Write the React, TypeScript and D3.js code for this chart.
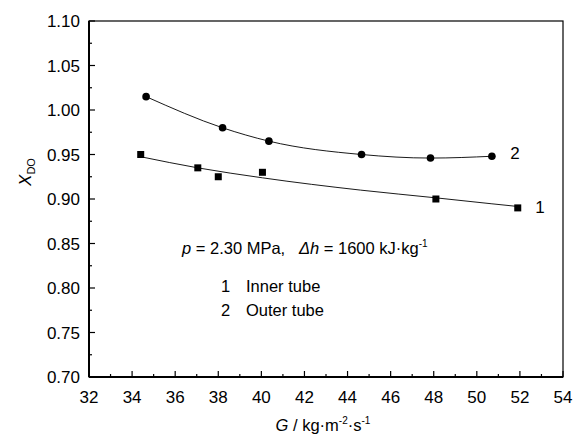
import React from "react";
import * as d3 from "d3";

const outerG = [34.65, 38.2, 40.35, 44.65, 47.85, 50.7];
const outerX = [1.015, 0.98, 0.965, 0.95, 0.946, 0.948];
const innerG = [34.4, 37.05, 38.0, 40.05, 48.1, 51.9];
const innerX = [0.95, 0.935, 0.925, 0.93, 0.9, 0.89];
const fitG = [34.4, 37.05, 40.05, 44.6, 48.1, 50.7, 51.9];
const fitX = [0.9475, 0.935, 0.9238, 0.91, 0.9013, 0.8946, 0.8916];
const xTicks = [32, 34, 36, 38, 40, 42, 44, 46, 48, 50, 52, 54];
const yTicks = [0.7, 0.75, 0.8, 0.85, 0.9, 0.95, 1.0, 1.05, 1.1];

const W = 581, H = 437;
const L = 89, R = 563, T = 21, B = 377;
const font = "Liberation Sans, Arial, sans-serif";

export default function App() {
  const x = d3.scaleLinear().domain([32, 54]).range([L, R]);
  const y = d3.scaleLinear().domain([0.7, 1.1]).range([B, T]);
  const line = d3.line<[number, number]>().x(d => x(d[0])).y(d => y(d[1])).curve(d3.curveMonotoneX);
  const outerPts = outerG.map((g, i) => [g, outerX[i]] as [number, number]);
  const innerPts = innerG.map((g, i) => [g, innerX[i]] as [number, number]);
  const fitPts = fitG.map((g, i) => [g, fitX[i]] as [number, number]);
  const xMinor = d3.range(33, 54, 2);
  const yMinor = d3.range(0, 8).map(i => 0.725 + i * 0.05);
  return (
    <svg width={W} height={H} style={{ position: "absolute", left: 0, top: 0, background: "#fff" }} fontFamily={font}>
      <rect x={0} y={0} width={W} height={H} fill="#fff" />
      <rect x={L} y={T} width={R - L} height={B - T} fill="none" stroke="#000" strokeWidth={1.2} />
      <line x1={L} x2={L} y1={T} y2={B} stroke="#000" strokeWidth={2} />
      <line x1={L} x2={R} y1={B} y2={B} stroke="#000" strokeWidth={2} />
      {xTicks.map(t => (
        <g key={"xt" + t}>
          <line x1={x(t)} x2={x(t)} y1={B} y2={B - 6} stroke="#000" strokeWidth={1.2} />
          <text x={x(t)} y={403} textAnchor="middle" fontSize={17}>{t}</text>
        </g>
      ))}
      {xMinor.map(t => (
        <line key={"xm" + t} x1={x(t)} x2={x(t)} y1={B} y2={B - 3} stroke="#000" strokeWidth={1.2} />
      ))}
      {yTicks.map(t => (
        <g key={"yt" + t}>
          <line x1={L} x2={L + 6} y1={y(t)} y2={y(t)} stroke="#000" strokeWidth={1.2} />
          <text x={80} y={y(t) + 6} textAnchor="end" fontSize={17}>{t.toFixed(2)}</text>
        </g>
      ))}
      {yMinor.map(t => (
        <line key={"ym" + t} x1={L} x2={L + 3} y1={y(t)} y2={y(t)} stroke="#000" strokeWidth={1.2} />
      ))}
      <path d={line(outerPts) || ""} fill="none" stroke="#000" strokeWidth={0.9} />
      <path d={line(fitPts) || ""} fill="none" stroke="#000" strokeWidth={0.9} />
      {outerPts.map((p, i) => (
        <circle key={"c" + i} cx={x(p[0])} cy={y(p[1])} r={3.8} fill="#000" />
      ))}
      {innerPts.map((p, i) => (
        <rect key={"s" + i} x={x(p[0]) - 3.5} y={y(p[1]) - 3.5} width={7} height={7} fill="#000" />
      ))}
      <text x={515} y={159} textAnchor="middle" fontSize={17}>2</text>
      <text x={540} y={213} textAnchor="middle" fontSize={17}>1</text>
      <text x={182} y={254} fontSize={16.5} style={{ whiteSpace: "pre" }}>
        <tspan fontStyle="italic">p</tspan> = 2.30 MPa,   <tspan fontStyle="italic">Δh</tspan> = 1600 kJ·kg<tspan dy={-7} fontSize={10}>-1</tspan>
      </text>
      <text x={221} y={292} fontSize={16.5}>1</text>
      <text x={246} y={292} fontSize={16.5}>Inner tube</text>
      <text x={221} y={316} fontSize={16.5}>2</text>
      <text x={246} y={316} fontSize={16.5}>Outer tube</text>
      <text x={323} y={431} textAnchor="middle" fontSize={16.5}>
        <tspan fontStyle="italic">G</tspan> / kg·m<tspan dy={-7} fontSize={10}>-2</tspan><tspan dy={7}>·s</tspan><tspan dy={-7} fontSize={10}>-1</tspan>
      </text>
      <text transform={`translate(31, 172) rotate(-90)`} textAnchor="middle" fontSize={17}>
        <tspan fontStyle="italic">X</tspan><tspan dy={4} fontSize={11}>DO</tspan>
      </text>
    </svg>
  );
}
